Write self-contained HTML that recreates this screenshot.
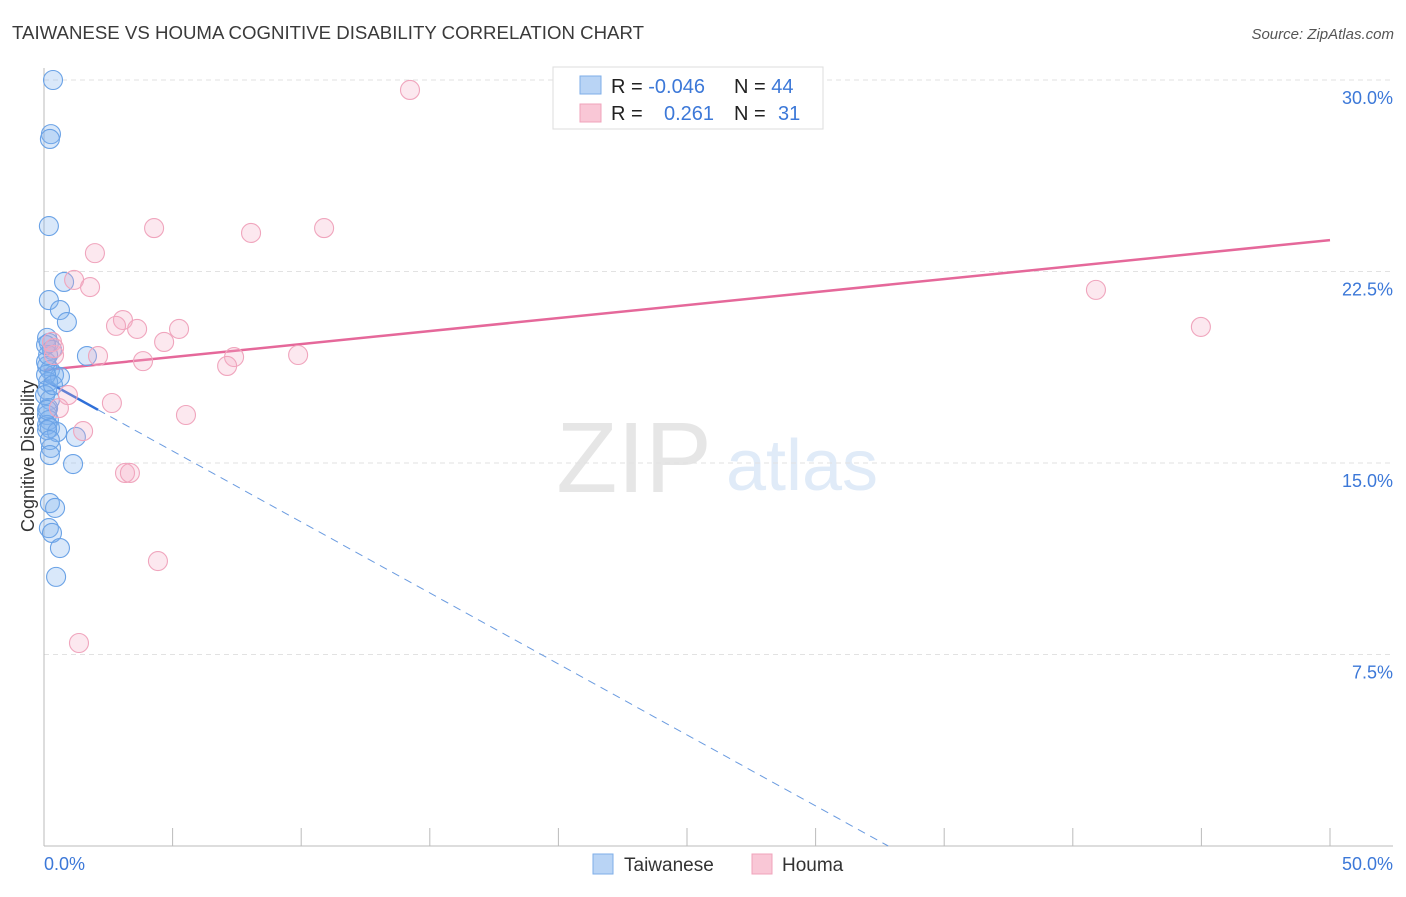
<!DOCTYPE html>
<html><head><meta charset="utf-8"><style>
body{margin:0;background:#fff;font-family:"Liberation Sans",sans-serif}
svg text{font-family:"Liberation Sans",sans-serif}
</style></head><body>
<svg id="chart" width="1406" height="892" xmlns="http://www.w3.org/2000/svg">
<text x="12" y="39" font-size="18" fill="#3a3a3a" textLength="632" lengthAdjust="spacingAndGlyphs">TAIWANESE VS HOUMA COGNITIVE DISABILITY CORRELATION CHART</text>
<text x="1394" y="39" font-size="15" fill="#555" font-style="italic" text-anchor="end">Source: ZipAtlas.com</text>
<g>
<text x="634" y="492" font-size="100" fill="#e6e6e6" text-anchor="middle" font-family="Liberation Serif">ZIP</text>
<text x="802" y="490" font-size="72" fill="#e0ebf8" text-anchor="middle">atlas</text>
</g>
<g id="grid"></g>
<g id="axes"></g>
<g id="lines"></g>
<g id="points"></g>
<text transform="translate(34,456) rotate(-90)" font-size="18" fill="#333" text-anchor="middle">Cognitive Disability</text>
<g>
<rect x="553" y="67" width="270" height="62" fill="#fff" stroke="#ddd"/>
<rect x="580" y="76" width="21" height="18" fill="#b9d4f5" stroke="#7eaee8"/>
<rect x="580" y="104" width="21" height="18" fill="#f9c7d6" stroke="#f0a3bb"/>
<text x="611" y="93" font-size="20" fill="#222">R = <tspan fill="#3c78d8">-0.046</tspan></text>
<text x="734" y="93" font-size="20" fill="#222">N = <tspan fill="#3c78d8">44</tspan></text>
<text x="611" y="120" font-size="20" fill="#222">R = </text>
<text x="664" y="120" font-size="20" fill="#3c78d8">0.261</text>
<text x="734" y="120" font-size="20" fill="#222">N = </text>
<text x="778" y="120" font-size="20" fill="#3c78d8">31</text>
</g>
<g>
<rect x="593" y="854" width="20" height="20" fill="#b9d4f5" stroke="#7eaee8"/>
<text x="624" y="871" font-size="19" fill="#333">Taiwanese</text>
<rect x="752" y="854" width="20" height="20" fill="#f9c7d6" stroke="#f0a3bb"/>
<text x="782" y="871" font-size="19" fill="#333">Houma</text>
</g>
</svg>
<script>
const xTickLabels=["0.0%","50.0%"];
const yTicks=[7.5,15,22.5,30];
const yTickLabels=["7.5%","15.0%","22.5%","30.0%"];
const blueX=[.35,.27,.23,.19,.78,.19,.62,.89,.12,.19,.31,1.67,.12,.23,.39,.62,.16,.12,.23,.16,.12,.19,.12,.23,.51,1.24,.27,1.13,.23,.43,.19,.31,.62,.47,.08,.08,.04,.12,.23,.12,.35,.16,.08,.23];
const blueY=[30.0,27.88,27.69,24.28,22.09,21.38,20.99,20.52,19.90,19.70,19.43,19.19,18.80,18.64,18.45,18.37,18.17,17.86,17.47,17.15,16.88,16.68,16.49,16.37,16.21,16.02,15.59,14.96,13.43,13.24,12.45,12.26,11.67,10.54,18.45,18.96,17.66,16.29,15.90,17.08,18.05,19.23,19.62,15.31];
const pinkX=[14.23,4.28,8.05,10.89,1.98,1.17,1.79,40.9,3.07,2.8,3.62,5.25,44.98,4.67,.31,2.1,.39,7.39,9.88,7.12,3.85,.93,2.64,.58,5.52,1.52,3.15,3.34,4.43,1.36,.39];
const pinkY=[29.61,24.2,24.01,24.2,23.22,22.17,21.89,21.78,20.6,20.37,20.25,20.25,20.33,19.74,19.74,19.19,19.23,19.15,19.23,18.8,18.99,17.66,17.35,17.15,16.88,16.25,14.61,14.61,11.16,7.95,19.5];
const pinkTrend=[18.64,23.73];
const blueTrend=[18.25,-0.556];
const NS="http://www.w3.org/2000/svg";
const X=v=>44+v/50*1286, Y=v=>846-v/7.5*191.5;
function mk(tag,attrs,parent){const e=document.createElementNS(NS,tag);for(const k in attrs)e.setAttribute(k,attrs[k]);document.getElementById(parent).appendChild(e);return e;}
yTicks.forEach((t,i)=>{
 const g=mk('line',{x1:44,x2:1393,y1:Y(t),y2:Y(t),stroke:'#e2e2e2','stroke-dasharray':'5,4'},'grid');
 
 
 const l=mk('text',{x:1393,y:Y(t)+24,'font-size':18,fill:'#3c78d8','text-anchor':'end'},'grid');
 l.textContent=yTickLabels[i];
 
 
});
const ax=mk('line',{x1:44,x2:1393,y1:846,y2:846,stroke:'#bbb'},'axes');


const ay=mk('line',{x1:44,x2:44,y1:68,y2:846,stroke:'#bbb'},'axes');


for(let v=5;v<=50;v+=5){
 const t=mk('line',{x1:X(v),x2:X(v),y1:828,y2:846,stroke:'#bbb'},'axes');
 
 
}
[[0,'start',44],[50,'end',1393]].forEach((a,i)=>{
 const l=mk('text',{x:a[2],y:870,'font-size':18,fill:'#3c78d8','text-anchor':a[1]},'axes');
 l.textContent=xTickLabels[i];
 
 
});
blueX.forEach((x,i)=>{
 const c=mk('circle',{cx:X(x),cy:Y(blueY[i]),r:9.5,fill:'rgba(130,178,238,0.3)',stroke:'#6aa2e6','stroke-width':1.1},'points');
 
 
});
pinkX.forEach((x,i)=>{
 const c=mk('circle',{cx:X(x),cy:Y(pinkY[i]),r:9.5,fill:'rgba(246,172,196,0.28)',stroke:'#f0a5bd','stroke-width':1.1},'points');
 
 
});
const pl=mk('line',{x1:X(0),y1:Y(pinkTrend[0]),x2:X(50),y2:Y(pinkTrend[1]),stroke:'#e5689a','stroke-width':2.5},'lines');


const bf=x=>blueTrend[0]+blueTrend[1]*x;
const xEnd=-blueTrend[0]/blueTrend[1];
const bs=mk('line',{x1:X(0),y1:Y(bf(0)),x2:X(2.1),y2:Y(bf(2.1)),stroke:'#2f6fd8','stroke-width':2.5},'lines');


const bd=mk('line',{x1:X(2.1),y1:Y(bf(2.1)),x2:X(xEnd),y2:Y(0),stroke:'#6a9be0','stroke-width':1,'stroke-dasharray':'8,6'},'lines');


</script>
</body></html>
